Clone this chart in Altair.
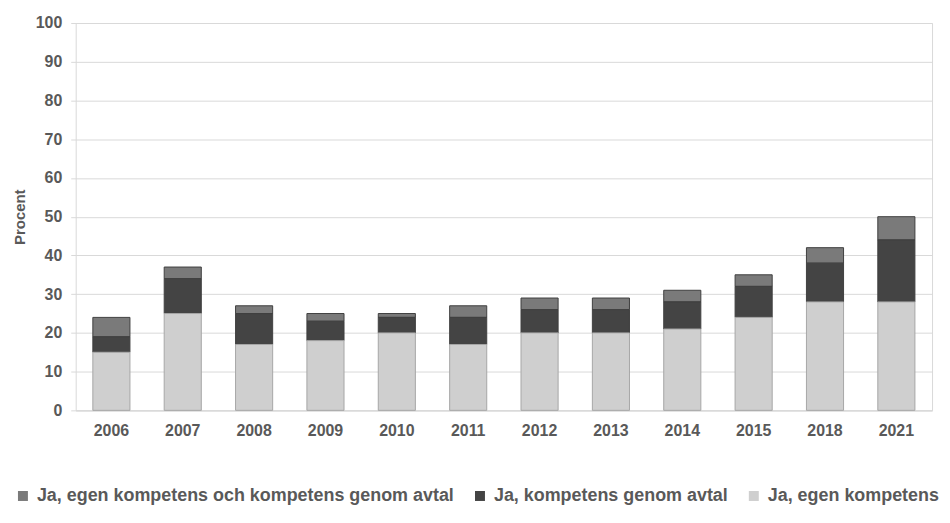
import altair as alt
import pandas as pd

years = ["2006", "2007", "2008", "2009", "2010", "2011", "2012", "2013", "2014", "2015", "2018", "2021"]
egen = [15, 25, 17, 18, 20, 17, 20, 20, 21, 24, 28, 28]
avtal = [4, 9, 8, 5, 4, 7, 6, 6, 7, 8, 10, 16]
bada = [5, 3, 2, 2, 1, 3, 3, 3, 3, 3, 4, 6]

series = [
    "Ja, egen kompetens och kompetens genom avtal",
    "Ja, kompetens genom avtal",
    "Ja, egen kompetens",
]
values_by_series = [bada, avtal, egen]
stack_order = [2, 1, 0]

rows = []
for s, vals, o in zip(series, values_by_series, stack_order):
    for y, v in zip(years, vals):
        rows.append({"year": y, "series": s, "value": v, "ord": o})
df = pd.DataFrame(rows)

fills = ["#7a7a7a", "#444444", "#cfcfcf"]
strokes = ["#404040", "#404040", "#a6a6a6"]

font = "Liberation Sans"
txt = "#595959"

chart = (
    alt.Chart(df)
    .mark_bar(strokeWidth=1)
    .encode(
        x=alt.X(
            "year:N",
            sort=years,
            scale=alt.Scale(paddingInner=0.48, paddingOuter=0.24),
            axis=alt.Axis(
                title=None,
                labelAngle=0,
                ticks=False,
                domain=True,
                domainColor="#d9d9d9",
                labelPadding=12,
                labelFont=font,
                labelFontSize=16,
                labelFontWeight="bold",
                labelColor=txt,
                grid=False,
            ),
        ),
        y=alt.Y(
            "value:Q",
            stack="zero",
            scale=alt.Scale(domain=[0, 100], nice=False),
            axis=alt.Axis(
                title="Procent",
                values=list(range(0, 101, 10)),
                domain=False,
                ticks=True,
                tickSize=5,
                tickColor="#d9d9d9",
                gridColor="#d9d9d9",
                labelPadding=9,
                labelFont=font,
                labelFontSize=16,
                labelFontWeight="bold",
                labelColor=txt,
                titleFont=font,
                titleFontSize=15,
                titleFontWeight="bold",
                titleColor=txt,
                titlePadding=8,
            ),
        ),
        color=alt.Color(
            "series:N",
            scale=alt.Scale(domain=series, range=fills),
            legend=alt.Legend(
                title=None,
                orient="none",
                direction="horizontal",
                legendX=-62,
                legendY=466,
                padding=0,
                symbolType="square",
                symbolSize=100,
                symbolStrokeWidth=0,
                symbolOpacity=1,
                labelFont=font,
                labelFontSize=18,
                labelFontWeight="bold",
                labelColor=txt,
                labelLimit=600,
                labelOffset=5,
                columnPadding=16,
            ),
        ),
        stroke=alt.Stroke(
            "series:N",
            scale=alt.Scale(domain=series, range=strokes),
            legend=None,
        ),
        order=alt.Order("ord:Q", sort="ascending"),
    )
    .properties(
        width=860,
        height=389,
        autosize=alt.AutoSizeParams(type="none"),
        padding={"left": 68, "top": 14, "right": 10, "bottom": 100},
    )
    .configure_view(stroke="#d9d9d9", strokeWidth=1)
)

chart.save("out.html", embed_options={"renderer": "svg", "actions": False})
